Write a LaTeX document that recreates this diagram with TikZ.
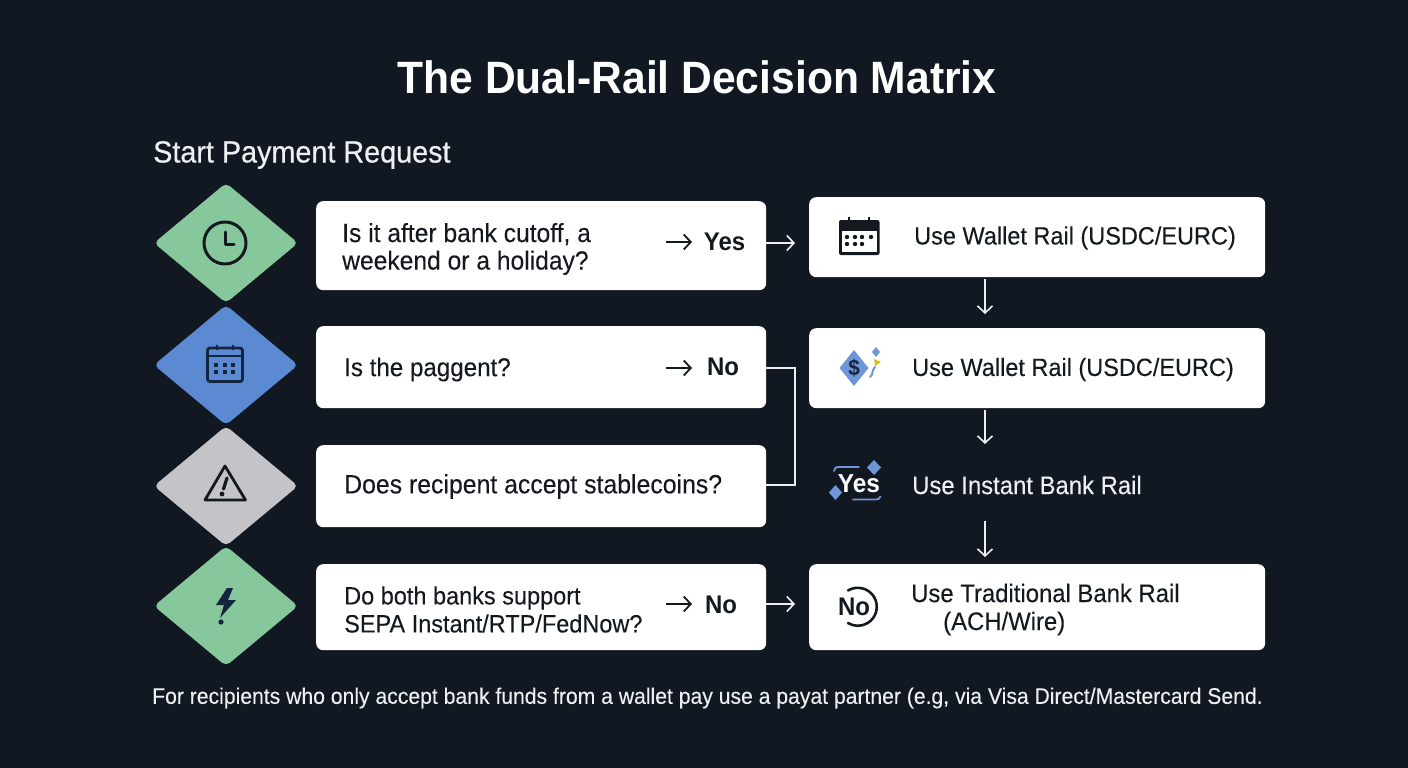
\documentclass[tikz,border=0pt]{standalone}
\usepackage{fontspec}
\setmainfont[FakeStretch=0.94]{Liberation Sans}
\newfontfamily\medfont[FakeStretch=0.94,FakeBold=0.5]{Liberation Sans}
\newfontfamily\bodyfont[FakeStretch=0.94,FakeBold=0.12]{Liberation Sans}
\usetikzlibrary{arrows.meta,shapes.geometric}
\definecolor{bg}{HTML}{111822}
\definecolor{ink}{HTML}{14191F}
\definecolor{navy}{HTML}{14263F}
\definecolor{dgreen}{HTML}{86C89C}
\definecolor{dblue}{HTML}{5B8AD3}
\definecolor{dgrey}{HTML}{C4C4C8}
\definecolor{light}{HTML}{EDEFF1}
\definecolor{icblue}{HTML}{6F97D8}
\tikzset{
  card/.style={fill=white,rounded corners=7pt,inner sep=0pt,anchor=north west},
  dia/.style={rounded corners=5pt},
  txt/.style={text=ink,font=\bodyfont\fontsize{25}{28}\selectfont,anchor=west,inner sep=0pt,align=left},
  ans/.style={text=ink,font=\fontsize{25.5}{28}\selectfont\bfseries,anchor=center,inner sep=0pt},
  wtxt/.style={text=light,font=\bodyfont\fontsize{25.4}{28}\selectfont,anchor=west,inner sep=0pt},
  rail/.style={draw=light,line width=1.6pt},
  arr/.style={rail,-{Straight Barb[length=7pt,width=15pt,line width=1.6pt]}},
  inarr/.style={draw=ink,line width=1.8pt,-{Straight Barb[length=7pt,width=15pt,line width=1.8pt]}},
  ico/.style={draw=ink,line width=3pt,line cap=round,line join=round},
}
\begin{document}
\begin{tikzpicture}[x=1pt,y=-1pt]
\useasboundingbox (0,0) rectangle (1408,768);
\fill[bg] (0,0) rectangle (1408,768);

\node[text=white,font=\fontsize{45.3}{48}\selectfont\bfseries,inner sep=0pt] (title) at (697,77.5) {The Dual-Rail Decision Matrix};
\node[text=light,font=\medfont\fontsize{30.6}{32}\selectfont,anchor=west,inner sep=0pt] (start) at (153,155) {Start Payment Request};

% diamonds
\fill[dgreen,dia] (226,183) -- (298,243) -- (226,303) -- (154,243) -- cycle;
\fill[dblue,dia]  (226,305) -- (298,365) -- (226,425) -- (154,365) -- cycle;
\fill[dgrey,dia]  (226,426) -- (298,486) -- (226,546) -- (154,486) -- cycle;
\fill[dgreen,dia] (226,546) -- (298,606) -- (226,666) -- (154,606) -- cycle;

% clock
\draw[ico] (225,243) circle (21);
\draw[ico] (225.5,232) -- (225.5,244.5) -- (234,244.5);
% calendar (blue diamond)
\draw[draw=navy,line width=2.8pt,rounded corners=2.5pt] (207.5,348) rectangle (242.5,381.5);
\draw[draw=navy,line width=2.8pt] (207.5,356) -- (242.5,356);
\draw[draw=navy,line width=2.8pt] (217,344.5) -- (217,350) (233,344.5) -- (233,350);
\foreach \x in {216,225,233} \foreach \y in {365,372} \fill[navy] (\x-2,\y-2) rectangle (\x+2,\y+2);
% warning
\draw[ico,line width=2.8pt] (225,466) -- (245.5,500) -- (205,500) -- cycle;
\draw[ico,line width=3.2pt] (227,478) -- (223.5,489);
\fill[ink] (222,494) circle (2.4);
% bolt
\fill[navy] (227,588) -- (216,605) -- (224,605) -- (220,618) -- (236,600) -- (228,600) -- (233,588) -- cycle;
\fill[navy] (221,622) circle (2.6);

% question cards
\node[card,minimum width=450pt,minimum height=89pt] (q1) at (316,201) {};
\node[card,minimum width=450pt,minimum height=82pt] (q2) at (316,326) {};
\node[card,minimum width=450pt,minimum height=82pt] (q3) at (316,445) {};
\node[card,minimum width=450pt,minimum height=86pt] (q4) at (316,564) {};
% answer cards
\node[card,minimum width=456pt,minimum height=80pt] (a1) at (809,197) {};
\node[card,minimum width=456pt,minimum height=80pt] (a2) at (809,328) {};
\node[card,minimum width=456pt,minimum height=86pt] (a4) at (809,564) {};

% question text
\node[txt,font=\bodyfont\fontsize{26.2}{28}\selectfont] (t1) at (342,249) {Is it after bank cutoff, a\\[-0.5pt]weekend or a holiday?};
\node[txt,font=\bodyfont\fontsize{25.7}{28}\selectfont] (t2) at (344,369.5) {Is the paggent?};
\node[txt,font=\bodyfont\fontsize{26.4}{28}\selectfont] (t3) at (344,486.5) {Does recipent accept stablecoins?};
\node[txt] (t4) at (344,609.5) {Do both banks support\\SEPA Instant/RTP/FedNow?};

% yes/no
\node[ans] (y1) at (724.5,242) {Yes};
\node[ans] (n2) at (723,367) {No};
\node[ans] (n4) at (721,605) {No};
\coordinate (i1) at (666,242);
\coordinate (i1e) at (692,242);
\coordinate (i2) at (666,368);
\coordinate (i2e) at (692,368);
\coordinate (i4) at (666,604);
\coordinate (i4e) at (692,604);
\draw[inarr] (i1) -- (i1e);
\draw[inarr] (i2) -- (i2e);
\draw[inarr] (i4) -- (i4e);

% answer text
\node[txt] (u1) at (914,238) {Use Wallet Rail (USDC/EURC)};
\node[txt] (u2) at (912,369.5) {Use Wallet Rail (USDC/EURC)};
\node[wtxt] (u3) at (912,485) {Use Instant Bank Rail};
\node[txt,font=\bodyfont\fontsize{25.4}{28}\selectfont] (u4) at (911,609.5) {Use Traditional Bank Rail\\\hspace*{32pt}(ACH/Wire)};

% calendar (answer 1)
\fill[ink,rounded corners=2pt] (839,220) rectangle (879.5,255);
\fill[white] (842,231) rectangle (876.5,252);
\draw[draw=ink,line width=2.4pt] (849,216.5) -- (849,222) (869,216.5) -- (869,222);
\foreach \x in {847,855,862,871} \fill[ink] (\x,237) circle (2.2);
\foreach \x in {847,855,862} \fill[ink] (\x,244) circle (2.2);

% dollar diamond
\fill[icblue] (854,350) -- (868.5,368) -- (854,386) -- (839.5,368) -- cycle;
\node[text=navy,font=\fontsize{22}{24}\selectfont\bfseries,inner sep=0pt] (dol) at (854,368) {\$};
\fill[icblue] (876,347) -- (880,352) -- (876,357) -- (872,352) -- cycle;
\fill[yellow!70!orange!85!black] (874,359) -- (881,362) -- (875,366) -- cycle;
\draw[icblue,line width=2pt,line cap=round] (875,367) .. controls (871,371) and (874,374) .. (870,377);

% yes decoration
\node[text=white,font=\fontsize{26}{28}\selectfont\bfseries,inner sep=0pt] (y3) at (859,484) {Yes};
\fill[icblue] (874,460) -- (881,467.5) -- (874,475) -- (867,467.5) -- cycle;
\fill[icblue] (835.5,485) -- (842,492.5) -- (835.5,500) -- (829,492.5) -- cycle;
\draw[icblue,line width=1.8pt,line cap=round] (834,471) .. controls (834.5,468) and (836,467) .. (838,467) -- (859,467);
\draw[icblue,line width=1.8pt,line cap=round] (853,499.5) -- (876,499.5) .. controls (878,499.5) and (880,498.5) .. (880.5,496.5);

% No circle
\draw[ink,line width=2.6pt,line cap=round] (848,590.5) arc[start angle=-121,end angle=121,radius=19];
\node[text=ink,font=\fontsize{25.5}{26}\selectfont\bfseries,inner sep=0pt] (n5) at (854,607) {No};

% connectors
\coordinate (e1) at (795,243);
\coordinate (e4) at (795,604);
\coordinate (r2) at (795,368);
\coordinate (r3) at (795,485);
\draw[arr] (q1.east |- e1) -- (e1);
\draw[arr] (q4.east |- e4) -- (e4);
\draw[rail] (q2.east |- r2) -- (r2) -- (r3) -- (q3.east |- r3);
\coordinate (d1) at (985,279);
\coordinate (d1e) at (985,314);
\coordinate (d2) at (985,410);
\coordinate (d2e) at (985,444);
\coordinate (d3) at (985,521);
\coordinate (d3e) at (985,557);
\draw[arr] (d1) -- (d1e);
\draw[arr] (d2) -- (d2e);
\draw[arr] (d3) -- (d3e);

\node[text=light,font=\bodyfont\fontsize{22.5}{24}\selectfont,inner sep=0pt,anchor=west] (foot) at (152,698) {For recipients who only accept bank funds from a wallet pay use a payat partner (e.g, via Visa Direct/Mastercard Send.};
\end{tikzpicture}
\end{document}
